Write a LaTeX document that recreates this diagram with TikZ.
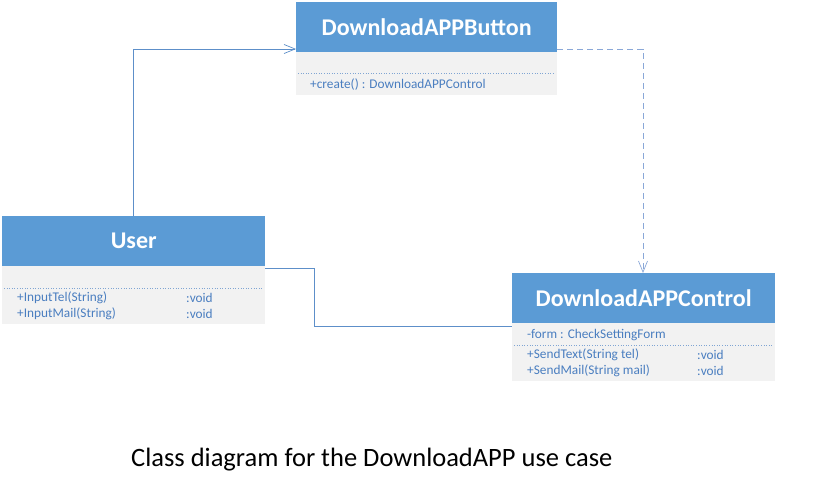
\documentclass[tikz,border=0pt]{standalone}
\usepackage{fontspec}
\setmainfont{Carlito}
\usetikzlibrary{arrows.meta,positioning}
\definecolor{hdr}{HTML}{5B9BD5}
\definecolor{bodybg}{HTML}{F2F2F2}
\definecolor{txt}{HTML}{4A7EC0}
\definecolor{conn}{HTML}{5D8FC9}
\definecolor{dashc}{HTML}{8AA8D8}
\tikzset{
  header/.style={fill=hdr, draw=none, text=white, font=\bfseries\fontsize{24}{28}\selectfont, inner sep=0pt, anchor=north west},
  body/.style={fill=bodybg, draw=none, inner sep=0pt, anchor=north west},
  member/.style={text=txt, font=\fontsize{13.3}{15}\selectfont, inner sep=0pt, anchor=west},
  sep/.style={draw=txt!70, dotted, line width=0.6pt},
  assoc/.style={draw=conn, line width=0.7pt},
  dep/.style={draw=dashc, line width=0.9pt, dash pattern=on 6pt off 4pt},
  open/.style={-{Straight Barb[length=11pt,width=9pt,line width=0.7pt]}}
}
\begin{document}
\begin{tikzpicture}[x=1pt,y=-1pt]
\useasboundingbox (0,0) rectangle (835,487);
\fill[white] (0,0) rectangle (835,487);
% DownloadAPPButton
\node[body, minimum width=261pt, minimum height=43pt] (btnB) at (296,52) {};
\node[header, minimum width=261pt, minimum height=50pt] (btnH) at (296,2) {DownloadAPPButton};
\draw[sep] (298,73) -- (555,73);
\node[member] (btnM1) at (310,85) {+create() : DownloadAPPControl};
% User
\node[body, minimum width=263pt, minimum height=58pt] (userB) at (2,266) {};
\node[header, minimum width=263pt, minimum height=50pt] (userH) at (2,216) {User};
\draw[sep] (4,288) -- (263,288);
\node[member] (userM1) at (17,298) {+InputTel(String)};
\node[member] (userM1r) at (186,298) {:void};
\node[member] (userM2) at (17,314) {+InputMail(String)};
\node[member] (userM2r) at (186,314) {:void};
% DownloadAPPControl
\node[body, minimum width=263pt, minimum height=58pt] (ctlB) at (512,323) {};
\node[header, minimum width=263pt, minimum height=50pt] (ctlH) at (512,273) {DownloadAPPControl};
\node[member] (ctlA1) at (527,335) {-form : CheckSettingForm};
\draw[sep] (514,345) -- (773,345);
\node[member] (ctlM1) at (527,355) {+SendText(String tel)};
\node[member] (ctlM1r) at (697,355) {:void};
\node[member] (ctlM2) at (527,371) {+SendMail(String mail)};
\node[member] (ctlM2r) at (697,371) {:void};
% connectors
\coordinate (c1) at (133,49);
\draw[assoc, open] (userH.north -| c1) -- (c1) -- (btnH.west |- c1);
\coordinate (d1) at (643,49);
\draw[dep, open] (btnH.east |- d1) -- (d1) -- (d1 |- ctlH.north);
\coordinate (e1) at (314,268);
\coordinate (e2) at (314,326);
\draw[assoc] (userB.north east |- e1) -- (e1) -- (e2) -- (ctlB.west |- e2);
% caption
\node[font=\fontsize{26.5}{30}\selectfont, anchor=west, inner sep=0pt] (cap) at (131,460) {Class diagram for the DownloadAPP use case};
\end{tikzpicture}
\end{document}
